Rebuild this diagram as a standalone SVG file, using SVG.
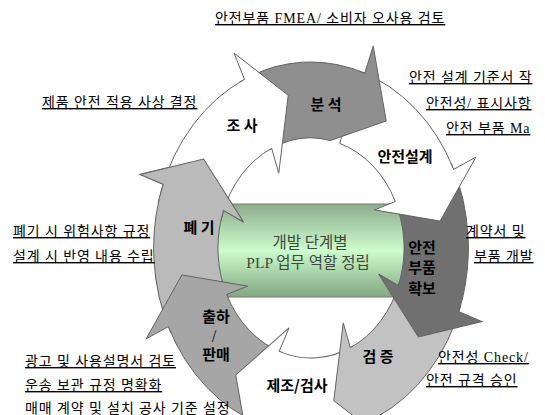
<svg xmlns="http://www.w3.org/2000/svg" width="545" height="415" viewBox="0 0 545 415">
<defs>
<style>
.w{fill:#ffffff}.g1{fill:#8f8f8f}.g2{fill:#707070}.g3{fill:#c2c2c2}.g4{fill:#a6a6a6}.g5{fill:#bababa}
.lbl{font-family:"Noto Sans CJK KR","Noto Sans",sans-serif;font-weight:bold;font-size:15px;fill:#000;text-anchor:middle}
.note{font-family:"Liberation Serif","Noto Sans CJK KR",serif;font-size:14px;letter-spacing:0.9px;fill:#000;text-decoration:underline}
.plain{font-family:"Liberation Serif","Noto Sans CJK KR",serif;font-size:14px;letter-spacing:0.9px;fill:#000}
.ctr{font-family:"Liberation Serif","Noto Sans CJK KR",serif;font-size:15.5px;fill:#3f473f;text-anchor:middle}
</style>
<linearGradient id="gb" x1="0" y1="0" x2="0" y2="1">
<stop offset="0" stop-color="#8cad8c"/>
<stop offset="0.5" stop-color="#cdfccd"/>
<stop offset="1" stop-color="#82a682"/>
</linearGradient>
<path id="arrow" d="M-136.04,-126.85 A186,186 0 0 1 0,-186 L0,-215 L40.11,-149.72 L-2.93,-83.95 L0,-110 A110,110 0 0 0 -80.45,-75.02 Z" stroke="#646464" stroke-width="1" vector-effect="non-scaling-stroke"/>
<path id="arrowB" d="M-136.04,-126.85 A186,186 0 0 1 0,-186 L0,-215 L40.11,-149.72 L-15.31,-108.93 A110,110 0 0 0 -80.45,-75.02 Z" stroke="#646464" stroke-width="1" vector-effect="non-scaling-stroke"/>
<clipPath id="headClip" clipPathUnits="userSpaceOnUse">
<path d="M0,0 L-25.09,-238.68 L45.8,-235.6 L101.4,-217.5 Z"/>
</clipPath>
</defs>
<rect width="545" height="415" fill="#ffffff"/>

<g id="center">
<rect x="200" y="204" width="220" height="93" fill="url(#gb)" stroke="#7a7a7a" stroke-width="1"/>
<text class="ctr" x="310" y="248">개발 단계별</text>
<text class="ctr" x="308" y="267.5">PLP 업무 역할 정립</text>
</g>

<g id="node-pyegi">
<use href="#arrow" class="g5" transform="translate(311,248) scale(0.846,1) rotate(290)"/>
<text class="lbl" x="199" y="233">폐 기</text>
</g>
<g id="node-chulha">
<use href="#arrow" class="g4" transform="translate(311,248) scale(0.846,1) rotate(245)"/>
<text class="lbl" x="216" y="322">출하</text>
<text class="lbl" x="214" y="340" style="font-weight:normal;font-size:12px">/</text>
<text class="lbl" x="216" y="359.5">판매</text>
</g>
<g id="node-jejo">
<use href="#arrow" class="w" transform="translate(311,248) scale(0.846,1) rotate(200)"/>
<text class="lbl" x="297" y="391">제조/검사</text>
</g>
<g id="node-geomjeung">
<use href="#arrow" class="g3" transform="translate(311,248) scale(0.846,1) rotate(155)"/>
<text class="lbl" x="378" y="362">검 증</text>
</g>
<g id="node-bupum">
<use href="#arrow" class="g2" transform="translate(311,248) scale(0.846,1) rotate(110)"/>
<text class="lbl" x="422" y="252.5">안전</text>
<text class="lbl" x="422" y="273">부품</text>
<text class="lbl" x="422" y="294">확보</text>
</g>
<g id="node-seolgye">
<use href="#arrow" class="w" transform="translate(311,248) scale(0.846,1) rotate(65)"/>
<text class="lbl" x="405" y="162">안전설계</text>
</g>
<g id="node-bunseok">
<use href="#arrowB" class="g1" transform="translate(311,248) scale(0.846,1) rotate(20)"/>
<text class="lbl" x="326" y="110">분 석</text>
</g>
<g id="node-josa">
<use href="#arrow" class="w" transform="translate(311,248) scale(0.846,1) rotate(-25)"/>
<text class="lbl" x="242" y="131">조 사</text>
</g>
<g id="node-pyegi-head">
<g transform="translate(311,248) scale(0.846,1) rotate(290)">
<use href="#arrow" class="g5" clip-path="url(#headClip)"/>
</g>
</g>

<g id="notes">
<text class="note" x="215" y="23">안전부품 FMEA/ 소비자 오사용 검토</text>
<text class="note" x="42" y="107">제품 안전 적용 사상 결정</text>
<text class="note" x="409" y="82">안전 설계 기준서 작</text>
<text class="note" x="426" y="108">안전성/ 표시사항</text>
<text class="note" x="446" y="133">안전 부품 Ma</text>
<text class="note" x="13" y="236">폐기 시 위험사항 규정</text>
<text class="note" x="13" y="261">설계 시 반영 내용 수립</text>
<text class="note" x="466" y="236">계약서 및</text>
<text class="note" x="474" y="261">부품 개발</text>
<text class="note" x="25" y="366">광고 및 사용설명서 검토</text>
<text class="note" x="25" y="390">운송 보관 규정 명확화</text>
<text class="plain" x="25" y="413">매매 계약 및 설치 공사 기준 설정</text>
<text class="note" x="438" y="362">안전성 Check/</text>
<text class="note" x="426" y="385">안전 규격 승인</text>
</g>
</svg>
